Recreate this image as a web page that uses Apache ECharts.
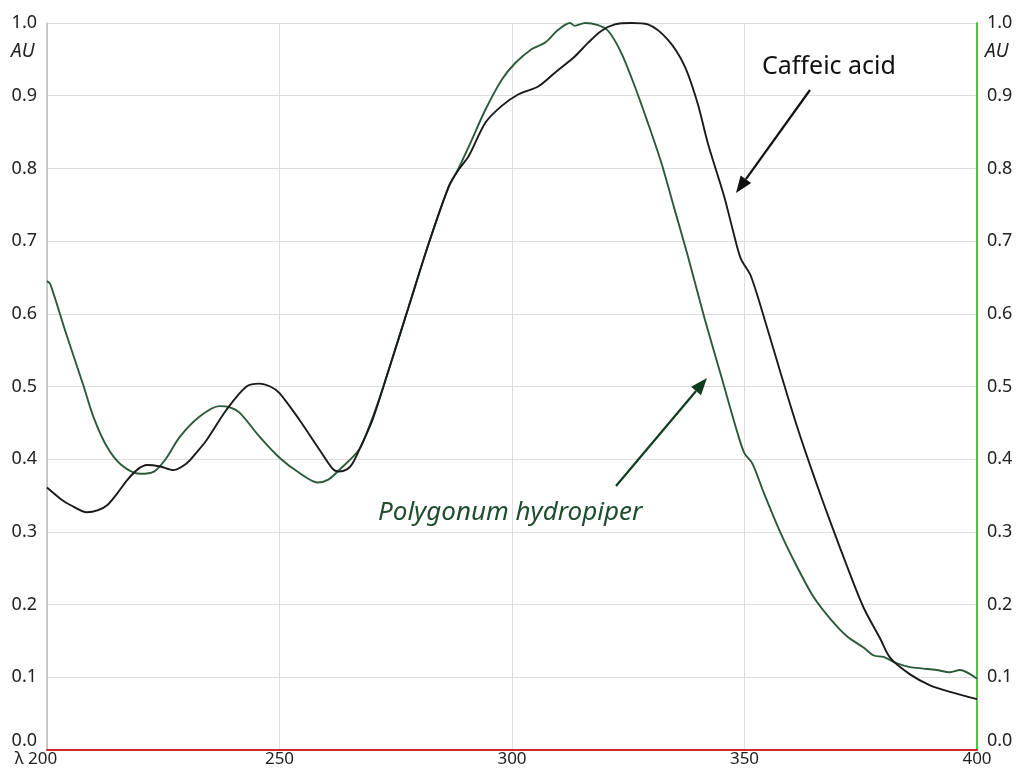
<!DOCTYPE html>
<html>
<head>
<meta charset="utf-8">
<script src="https://cdn.jsdelivr.net/npm/echarts@6/dist/echarts.min.js"></script>
<style>
html,body{margin:0;padding:0;background:#fff;}
#chart{width:1023px;height:773px;}
</style>
</head>
<body>
<div id="chart"></div>
<script>
// ---- data ----
const xTicks = [200, 250, 300, 350, 400];
const yTicks = [0.0, 0.1, 0.2, 0.3, 0.4, 0.5, 0.6, 0.7, 0.8, 0.9, 1.0];

const caffeicWl = [200, 203, 205, 208.6, 211, 213, 215, 217.2, 219.5, 221.5, 224.3, 227.2, 230, 232, 234.3, 238.6, 242.9, 245.7, 248, 250, 254.3, 258.6, 261.4, 262.8, 264.5, 265.7, 268, 270, 273.5, 277.8, 282.1, 286.4, 288.5, 290.7, 294.3, 297.8, 301.4, 305.7, 309.3, 313.5, 316.4, 319.2, 322.1, 325.7, 329.2, 333.5, 337.1, 339.9, 342.1, 345.6, 347.5, 349.2, 351.3, 354.2, 357.8, 361.3, 364.9, 368.5, 372.1, 375.6, 379.2, 381.3, 385.6, 389.9, 394.2, 400];
const caffeicAU = [0.361, 0.345, 0.337, 0.327, 0.330, 0.337, 0.352, 0.371, 0.386, 0.392, 0.390, 0.385, 0.394, 0.408, 0.426, 0.468, 0.500, 0.504, 0.500, 0.491, 0.454, 0.413, 0.387, 0.383, 0.386, 0.394, 0.425, 0.454, 0.523, 0.610, 0.697, 0.775, 0.798, 0.817, 0.863, 0.886, 0.902, 0.913, 0.932, 0.954, 0.973, 0.989, 0.998, 1.000, 0.998, 0.977, 0.941, 0.890, 0.835, 0.762, 0.715, 0.676, 0.653, 0.595, 0.518, 0.445, 0.377, 0.313, 0.252, 0.196, 0.153, 0.127, 0.104, 0.089, 0.080, 0.070];

const polygonumWl = [200, 200.7, 204, 207.9, 210, 212.9, 216, 220, 223, 225.5, 228.6, 232.9, 237.1, 239, 241.4, 245.7, 250, 254.3, 258.2, 260.5, 262.8, 267.1, 269.3, 271.4, 273.5, 277.8, 282.1, 286.4, 288.5, 290.7, 294.3, 297.8, 300.7, 304.2, 307.1, 310, 312.5, 313.5, 315.7, 318.5, 320.7, 323.5, 326.4, 329.2, 332.1, 334.9, 337.8, 341.4, 345, 348.5, 350, 351.7, 354.2, 357.8, 361.3, 364.9, 368.5, 372.1, 375.6, 377.8, 379.9, 382.8, 385.6, 388.5, 391.3, 394.2, 396.3, 400];
const polygonumAU = [0.645, 0.641, 0.575, 0.500, 0.458, 0.417, 0.392, 0.380, 0.383, 0.400, 0.431, 0.459, 0.473, 0.472, 0.464, 0.431, 0.402, 0.381, 0.368, 0.372, 0.385, 0.413, 0.445, 0.482, 0.523, 0.610, 0.697, 0.775, 0.800, 0.830, 0.881, 0.922, 0.945, 0.964, 0.973, 0.991, 1.000, 0.996, 1.000, 0.997, 0.989, 0.959, 0.913, 0.863, 0.808, 0.745, 0.680, 0.594, 0.514, 0.436, 0.408, 0.394, 0.353, 0.298, 0.252, 0.210, 0.180, 0.156, 0.141, 0.130, 0.128, 0.119, 0.114, 0.112, 0.110, 0.107, 0.110, 0.098];

const seriesNames = ['Caffeic acid', 'Polygonum hydropiper'];
const yUnit = 'AU';

// ---- chart ----
const FONT = '"Noto Sans", "Open Sans", sans-serif';
const GREEN = '#1f4d2e';
const LABEL = { fontSize: 18, color: '#222', fontFamily: FONT };

function pairs(xs, ys) { return xs.map((x, i) => [x, ys[i]]); }

function arrow(x1, y1, x2, y2, color) {
  const dx = x2 - x1, dy = y2 - y1, len = Math.hypot(dx, dy);
  const ux = dx / len, uy = dy / len;
  const hl = 17, hw = 6.5;
  const bx = x2 - ux * hl, by = y2 - uy * hl;
  return [
    { type: 'line', shape: { x1: x1, y1: y1, x2: bx, y2: by }, style: { stroke: color, lineWidth: 2.2 }, z: 100 },
    { type: 'polygon', shape: { points: [[x2, y2], [bx - uy * hw, by + ux * hw], [bx + uy * hw, by - ux * hw]] }, style: { fill: color }, z: 100 }
  ];
}

const yLabel = {
  ...LABEL, margin: 10,
  formatter: v => v === yTicks[0] ? '{z|' + v.toFixed(1) + '}' : v.toFixed(1),
  rich: { z: { ...LABEL, padding: [0, 0, 18, 0] } }
};

const chart = echarts.init(document.getElementById('chart'), null, { renderer: 'canvas' });
chart.setOption({
  backgroundColor: '#fff',
  animation: false,
  grid: { left: 47, right: 46, top: 23, bottom: 23 },
  xAxis: {
    type: 'value', min: xTicks[0], max: xTicks[xTicks.length - 1], interval: 50,
    axisLine: { show: true, onZero: false, lineStyle: { color: '#cc2a2a', width: 2 } },
    axisTick: { show: false },
    splitLine: { show: true, lineStyle: { color: '#dedede', width: 1 } },
    axisLabel: {
      ...LABEL, fontSize: 17, margin: 1,
      formatter: v => v === xTicks[0] ? '{a|λ ' + v + '}' : String(v),
      rich: { a: { ...LABEL, fontSize: 17, padding: [0, 22, 0, 0] } }
    }
  },
  yAxis: [
    {
      type: 'value', min: 0, max: 1, interval: 0.1, position: 'left',
      axisLine: { show: true, lineStyle: { color: '#bdbdbd', width: 1.5 } },
      axisTick: { show: false },
      splitLine: { show: true, lineStyle: { color: '#dedede', width: 1 } },
      axisLabel: yLabel
    },
    {
      type: 'value', min: 0, max: 1, interval: 0.1, position: 'right',
      axisLine: { show: true, lineStyle: { color: '#44cc33', width: 2 } },
      axisTick: { show: false },
      splitLine: { show: false },
      axisLabel: yLabel
    }
  ],
  series: [
    {
      name: seriesNames[0], type: 'line', data: pairs(caffeicWl, caffeicAU),
      smooth: 0.3, showSymbol: false, z: 5,
      lineStyle: { color: '#1a1a1a', width: 1.9 }
    },
    {
      name: seriesNames[1], type: 'line', data: pairs(polygonumWl, polygonumAU),
      smooth: 0.3, showSymbol: false, z: 4,
      lineStyle: { color: '#2b5a3b', width: 1.9 }
    }
  ],
  graphic: [
    { type: 'text', left: 11, top: 42, style: { text: yUnit, font: 'italic 19px ' + FONT, fill: '#222' } },
    { type: 'text', left: 985, top: 42, style: { text: yUnit, font: 'italic 19px ' + FONT, fill: '#222' } },
    { type: 'text', left: 762, top: 54, style: { text: seriesNames[0], font: '25px ' + FONT, fill: '#111' } },
    { type: 'text', left: 378, top: 500, style: { text: seriesNames[1], font: 'italic 26px ' + FONT, fill: GREEN } },
    ...arrow(810, 90, 736, 193, '#111'),
    ...arrow(616, 486, 707, 378, '#0f3d20')
  ]
});
</script>
</body>
</html>
